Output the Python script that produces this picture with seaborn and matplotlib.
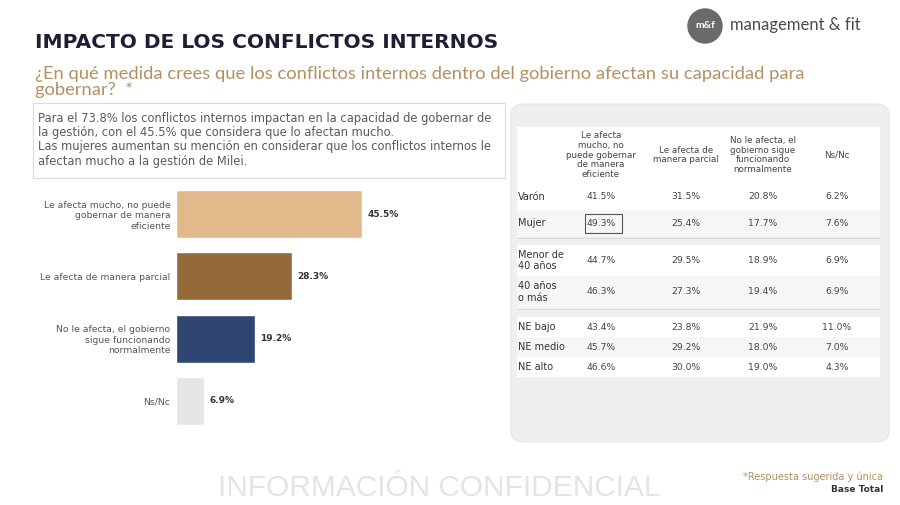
import matplotlib
matplotlib.use("Agg")
import matplotlib.pyplot as plt
from matplotlib.patches import Rectangle, FancyBboxPatch, Circle
import seaborn as sns
import pandas as pd

# ---- data ----
categories = [
    "Le afecta mucho, no puede\ngobernar de manera\neficiente",
    "Le afecta de manera parcial",
    "No le afecta, el gobierno\nsigue funcionando\nnormalmente",
    "Ns/Nc",
]
values = [45.5, 28.3, 19.2, 6.9]
bar_colors = ["#E2B98A", "#956A3B", "#2F4572", "#E6E6E6"]

table_headers = [
    "Le afecta\nmucho, no\npuede gobernar\nde manera\neficiente",
    "Le afecta de\nmanera parcial",
    "No le afecta, el\ngobierno sigue\nfuncionando\nnormalmente",
    "Ns/Nc",
]
row_labels = ["Varón", "Mujer", "Menor de\n40 años", "40 años\no más", "NE bajo", "NE medio", "NE alto"]
col_mucho = [41.5, 49.3, 44.7, 46.3, 43.4, 45.7, 46.6]
col_parcial = [31.5, 25.4, 29.5, 27.3, 23.8, 29.2, 30.0]
col_no_afecta = [20.8, 17.7, 18.9, 19.4, 21.9, 18.0, 19.0]
col_nsnc = [6.2, 7.6, 6.9, 6.9, 11.0, 7.0, 4.3]

# ---- layout ----
sns.set_theme(style="white")
plt.rcParams["font.family"] = ["DejaVu Sans"]

fig = plt.figure(figsize=(9, 5.05), dpi=100)
fig.patch.set_facecolor("white")

# background axes in pixel units for the decoration and the table
bg = fig.add_axes([0, 0, 1, 1])
bg.set_xlim(0, 900)
bg.set_ylim(505, 0)
bg.axis("off")

# title and question
bg.text(35, 43, "IMPACTO DE LOS CONFLICTOS INTERNOS", fontsize=14.5, fontweight="bold",
        color="#1D1F33", va="center")
bg.text(35, 82, "¿En qué medida crees que los conflictos internos dentro del gobierno afectan su capacidad para\ngobernar?  *",
        fontsize=13.2, color="#B39062", family="Lato", va="center", linespacing=0.96)

# logo
bg.add_patch(Circle((705, 26), 17, color="#6A6A6A"))
bg.text(705, 26, "m&f", color="white", fontsize=7.5, fontweight="bold", ha="center", va="center", family="Lato")
bg.text(730, 25, "management & fit", color="#4A4A4A", fontsize=12, va="center", family="Lato")

# comment box
bg.add_patch(Rectangle((33, 103), 472, 75, facecolor="white", edgecolor="#DDDDDD", lw=0.9))
bg.text(38, 112, "Para el 73.8% los conflictos internos impactan en la capacidad de gobernar de\n"
        "la gestión, con el 45.5% que considera que lo afectan mucho.\n"
        "Las mujeres aumentan su mención en considerar que los conflictos internos le\n"
        "afectan mucho a la gestión de Milei.",
        fontsize=8.3, color="#5A5A5A", va="top", linespacing=1.12)

# ---- bar chart ----
ax = fig.add_axes([176 / 900, 1 - 432 / 505, 204.5 / 900, 249 / 505])
ax.patch.set_alpha(0)
df = pd.DataFrame({"cat": categories, "val": values})
sns.barplot(data=df, x="val", y="cat", hue="cat", palette=bar_colors, legend=False,
            width=0.77, saturation=1, ax=ax)
ax.set_xlim(0, 50)
ax.set_xlabel("")
ax.set_ylabel("")
ax.set_xticks([])
sns.despine(ax=ax, left=True, bottom=True)
ax.tick_params(axis="y", length=0, pad=4, labelsize=6.7, labelcolor="#555555")
for c, v in zip(ax.containers, values):
    ax.bar_label(c, labels=[f"{v}%"], padding=4, fontsize=6.5, fontweight="bold", color="#333333")

# ---- table panel ----
bg.add_patch(FancyBboxPatch((511, 104), 378, 338, boxstyle="round,pad=0,rounding_size=12",
                            facecolor="#EFEFEF", edgecolor="#E6E6E6", lw=0.8))
tx0, tx1 = 517, 880
col_x = [601, 686, 763, 837]
bg.add_patch(Rectangle((tx0, 127), tx1 - tx0, 56, facecolor="white", lw=0))
for x, h in zip(col_x, table_headers):
    bg.text(x, 155, h, ha="center", va="center", fontsize=6.3, color="#444444", linespacing=1.1)

row_tops = [183, 210, 245, 276, 317, 337, 357]
row_h = [27, 27, 31, 32, 20, 20, 20]
row_fill = ["white", "#F6F6F6", "white", "#F6F6F6", "white", "#F6F6F6", "white"]
for sep in (238, 309):
    bg.add_patch(Rectangle((tx0, sep), tx1 - tx0, 1.2, facecolor="#DADADA", lw=0))

for i, lab in enumerate(row_labels):
    top, h = row_tops[i], row_h[i]
    yc = top + h / 2
    bg.add_patch(Rectangle((tx0, top), tx1 - tx0, h, facecolor=row_fill[i], lw=0))
    bg.text(518, yc, lab, ha="left", va="center", fontsize=7, color="#333333", linespacing=1.2)
    for x, col in zip(col_x, [col_mucho, col_parcial, col_no_afecta, col_nsnc]):
        bg.text(x, yc, f"{col[i]:.1f}%", ha="center", va="center", fontsize=6.7, color="#444444")

# highlight Mujer / mucho
bg.add_patch(Rectangle((585, 214), 37, 19, facecolor="none", edgecolor="#555555", lw=0.8))

# ---- footer ----
bg.text(439, 488, "INFORMACIÓN CONFIDENCIAL", ha="center", va="center", fontsize=21.5,
        color="#E4E4E4", family="Liberation Sans")
bg.text(883, 477, "*Respuesta sugerida y única", ha="right", va="center", fontsize=7, color="#B39062")
bg.text(883, 489, "Base Total", ha="right", va="center", fontsize=6.5, color="#333333", fontweight="bold")

fig.savefig("out.png", dpi=100, facecolor="white")
